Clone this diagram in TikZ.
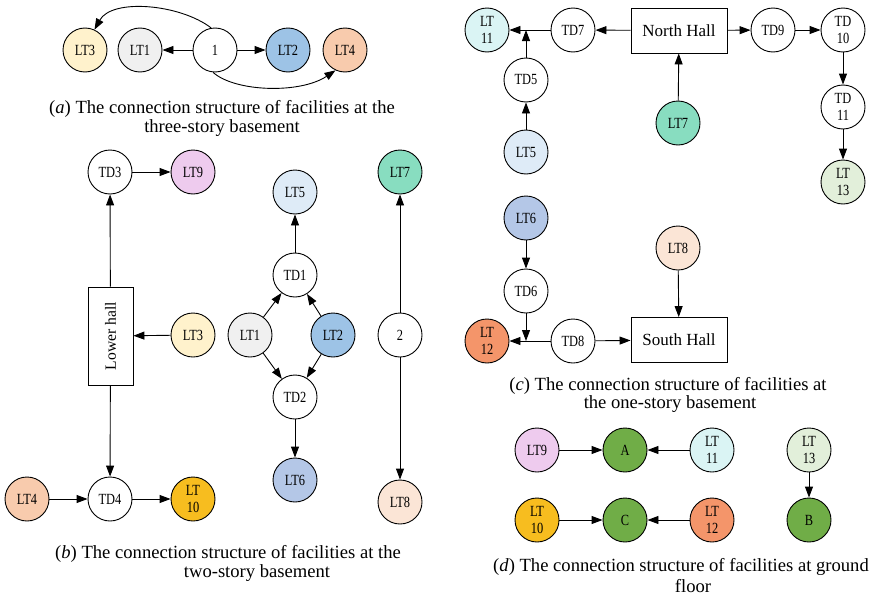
\documentclass[tikz,border=0pt]{standalone}
\usepackage{fontspec}
\setmainfont{Liberation Serif}
\newfontfamily\facfont[FakeStretch=0.8]{Liberation Serif}
\usepackage{tikz}
\usetikzlibrary{arrows.meta, positioning, calc}

\definecolor{cLTa}{HTML}{F0F0F0}
\definecolor{cLTb}{HTML}{9DC3E6}
\definecolor{cLTc}{HTML}{FFF2CC}
\definecolor{cLTd}{HTML}{F8CBAD}
\definecolor{cLTe}{HTML}{DEEBF7}
\definecolor{cLTf}{HTML}{B4C7E7}
\definecolor{cLTg}{HTML}{88DDC0}
\definecolor{cLTh}{HTML}{FBE5D6}
\definecolor{cLTi}{HTML}{EECBEE}
\definecolor{cLTj}{HTML}{F7BD1F}
\definecolor{cLTk}{HTML}{DAF4F4}
\definecolor{cLTl}{HTML}{F4956A}
\definecolor{cLTm}{HTML}{E2EFDA}
\definecolor{cExit}{HTML}{70AD47}

\begin{document}
\begin{tikzpicture}[
                x=1pt, y=-1pt,
                fac/.style={draw, circle, minimum size=44pt, inner sep=0pt, align=center, font=\facfont\fontsize{15.5}{17}\selectfont, line width=0.9pt},
                hall/.style={draw, rectangle, minimum width=96pt, minimum height=45pt, font=\fontsize{17}{19}\selectfont, line width=0.9pt},
                subcap/.style={font=\fontsize{18.6}{20}\selectfont, inner sep=0pt, anchor=base},
                every path/.style={line width=0.9pt},
                >={Triangle[length=11pt, width=8pt]}
            ]
                \useasboundingbox (0,0) rectangle (875,597);

                % (a) three-story basement
                \node[fac, fill=cLTc] (a3) at (85,50) {LT3};
                \node[fac, fill=cLTa] (a1) at (140,50) {LT1};
                \node[fac] (aone) at (215,50) {1};
                \node[fac, fill=cLTb] (a2) at (288,50) {LT2};
                \node[fac, fill=cLTd] (a4) at (345,50) {LT4};

                \draw[->] (aone) -- (a1);
                \draw[->] (aone) -- (a2);
                \draw[->] (aone.100) .. controls (180,4) and (112,-2) .. (a3.65);
                \draw[->] (aone.265) .. controls (235,92) and (300,94) .. (a4.245);

                \node[subcap] (capa1) at (222,113) {(\textit{a}) The connection structure of facilities at the};
                \node[subcap] (capa2) at (222,132) {three-story basement};

                % (b) two-story basement
                \node[hall, rotate=90, minimum width=98pt, minimum height=45pt, font=\fontsize{15.6}{18}\selectfont] (lower) at (110.5,336) {Lower hall};
                \node[fac] (td3) at (110,172) {TD3};
                \node[fac, fill=cLTi] (b9) at (193,172) {LT9};
                \node[fac, fill=cLTc] (b3) at (193,335) {LT3};
                \node[fac] (td4) at (110,499) {TD4};
                \node[fac, fill=cLTd] (b4) at (27,499) {LT4};
                \node[fac, fill=cLTj] (b10) at (193,499) {LT\\10};
                \node[fac, fill=cLTe] (b5) at (295,192) {LT5};
                \node[fac] (td1) at (295,275) {TD1};
                \node[fac, fill=cLTa] (b1) at (250,335) {LT1};
                \node[fac, fill=cLTb] (b2) at (333,335) {LT2};
                \node[fac] (td2) at (295,397) {TD2};
                \node[fac, fill=cLTf] (b6) at (295,480) {LT6};
                \node[fac, fill=cLTg] (b7) at (400,172) {LT7};
                \node[fac] (btwo) at (400,335) {2};
                \node[fac, fill=cLTh] (b8) at (400,502) {LT8};

                \draw[->] (lower) -- (td3);
                \draw[->] (td3) -- (b9);
                \draw[->] (b3) -- (lower);
                \draw[->] (lower) -- (td4);
                \draw[->] (b4) -- (td4);
                \draw[->] (td4) -- (b10);
                \draw[->] (td1) -- (b5);
                \draw[->] (b1) -- (td1);
                \draw[->] (b2) -- (td1);
                \draw[->] (b1) -- (td2);
                \draw[->] (b2) -- (td2);
                \draw[->] (td2) -- (b6);
                \draw[->] (btwo) -- (b7);
                \draw[->] (btwo) -- (b8);

                \node[subcap] (capb1) at (228,558) {(\textit{b}) The connection structure of facilities at the};
                \node[subcap] (capb2) at (257,577) {two-story basement};

                % (c) one-story basement
                \node[hall] (north) at (679,30.5) {North Hall};
                \node[fac, fill=cLTk] (c11) at (487,30) {LT\\11};
                \node[fac] (td7) at (573,30) {TD7};
                \node[fac] (td9) at (773,30) {TD9};
                \node[fac] (td10) at (843,30) {TD\\10};
                \node[fac] (td11) at (843,107) {TD\\11};
                \node[fac, fill=cLTm] (c13) at (843,182) {LT\\13};
                \node[fac] (td5) at (526,80) {TD5};
                \node[fac, fill=cLTe] (c5) at (526,152) {LT5};
                \node[fac, fill=cLTg] (c7) at (678,123) {LT7};
                \coordinate (jn) at (td5 |- c11);

                \node[hall] (south) at (679,340) {South Hall};
                \node[fac, fill=cLTf] (c6) at (526,218) {LT6};
                \node[fac] (td6) at (526,291) {TD6};
                \node[fac, fill=cLTl] (c12) at (487,341) {LT\\12};
                \node[fac] (td8) at (573,341) {TD8};
                \node[fac, fill=cLTh] (c8) at (678,248) {LT8};
                \coordinate (js) at (td6 |- c12);

                \draw[->] (north) -- (td7);
                \draw[->] (td7) -- (c11);
                \draw[->] (td5) -- (jn);
                \draw[->] (c5) -- (td5);
                \draw[->] (c7) -- (north);
                \draw[->] (north) -- (td9);
                \draw[->] (td9) -- (td10);
                \draw[->] (td10) -- (td11);
                \draw[->] (td11) -- (c13);
                \draw[->] (c6) -- (td6);
                \draw[->] (td6) -- (js);
                \draw[->] (td8) -- (c12);
                \draw[->] (td8) -- (south);
                \draw[->] (c8) -- (south);

                \node[subcap] (capc1) at (668,390) {(\textit{c}) The connection structure of facilities at};
                \node[subcap] (capc2) at (670,408) {the one-story basement};

                % (d) ground floor
                \node[fac, fill=cLTi] (d9) at (537,450) {LT9};
                \node[fac, fill=cExit] (exa) at (625,450) {A};
                \node[fac, fill=cLTk] (d11) at (712,450) {LT\\11};
                \node[fac, fill=cLTm] (d13) at (809,450) {LT\\13};
                \node[fac, fill=cExit] (exb) at (809,520) {B};
                \node[fac, fill=cLTj] (d10) at (537,520) {LT\\10};
                \node[fac, fill=cExit] (exc) at (625,520) {C};
                \node[fac, fill=cLTl] (d12) at (712,520) {LT\\12};

                \draw[->] (d9) -- (exa);
                \draw[->] (d11) -- (exa);
                \draw[->] (d13) -- (exb);
                \draw[->] (d10) -- (exc);
                \draw[->] (d12) -- (exc);

                \node[subcap] (capd1) at (681,571) {(\textit{d}) The connection structure of facilities at ground};
                \node[subcap] (capd2) at (693,592) {floor};

            \end{tikzpicture}
\end{document}
